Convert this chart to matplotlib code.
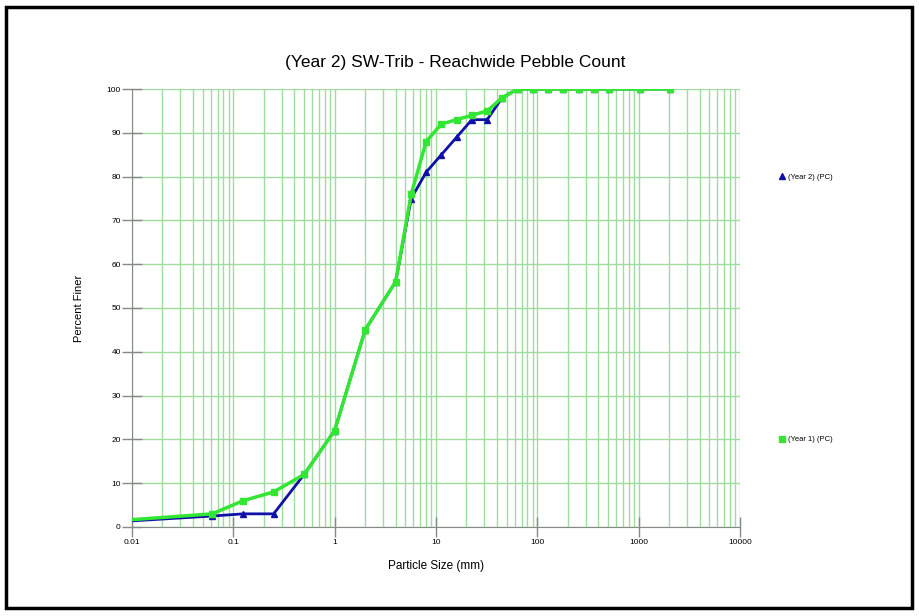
import matplotlib
matplotlib.use("Agg")
import matplotlib.pyplot as plt
from matplotlib.lines import Line2D
from matplotlib.patches import Rectangle
from matplotlib.ticker import LogLocator, FixedLocator, NullFormatter

plt.rcParams['font.family'] = ['Liberation Sans', 'DejaVu Sans']

# particle sizes (mm); first point is the 0 % anchor off the left edge
sizes = [0.001, 0.062, 0.125, 0.25, 0.5, 1, 2, 4, 5.7, 8, 11.3, 16, 22.6, 32, 45,
         64, 90, 128, 180, 256, 362, 512, 1024, 2048]
year1 = [0, 3, 6, 8, 12, 22, 45, 56, 76, 88, 92, 93, 94, 95, 98,
         100, 100, 100, 100, 100, 100, 100, 100, 100]
year2 = [0, 2.5, 3, 3, 12, 22, 45, 56, 75, 81, 85, 89, 93, 93, 98,
         100, 100, 100, 100, 100, 100, 100, 100, 100]

xticks = [0.01, 0.1, 1, 10, 100, 1000, 10000]
xlabels = ['0.01', '0.1', '1', '10', '100', '1000', '10000']
yticks = [0, 10, 20, 30, 40, 50, 60, 70, 80, 90, 100]

blue = '#1010a8'
green = '#33e633'
gridc = '#a0dca0'

fig = plt.figure(figsize=(9.19, 6.16), dpi=100)
ax = fig.add_axes([0.1436, 0.1445, 0.8052 - 0.1436, 0.8555 - 0.1445])

ax.plot(sizes, year2, color=blue, lw=2, marker='^', ms=4.2, zorder=3)
ax.plot(sizes, year1, color=green, lw=2.5, marker='s', ms=4.5, zorder=4)

ax.set_xscale('log')
ax.set_xlim(0.01, 10000)
ax.set_ylim(0, 100)
ax.xaxis.set_major_locator(FixedLocator(xticks))
ax.set_xticks(xticks, xlabels)
ax.xaxis.set_minor_locator(LogLocator(base=10, subs=range(2, 10), numticks=20))
ax.xaxis.set_minor_formatter(NullFormatter())
ax.set_yticks(yticks)

ax.grid(True, which='both', axis='x', color=gridc, lw=1)
ax.grid(True, which='major', axis='y', color=gridc, lw=1)
ax.tick_params(axis='x', which='minor', length=0)
ax.tick_params(which='major', direction='inout', length=14, color='#888888',
               labelsize=6, width=1)
ax.tick_params(axis='x', pad=2)
ax.tick_params(axis='y', pad=1)

for s in ['top', 'right']:
    ax.spines[s].set_visible(False)
for s in ['left', 'bottom']:
    ax.spines[s].set_color('#888888')

ax.set_xlabel('Particle Size (mm)', fontsize=8.5, labelpad=10)
ax.set_ylabel('Percent Finer', fontsize=8, labelpad=16)
fig.text(0.495, 0.899, '(Year 2) SW-Trib - Reachwide Pebble Count',
         ha='center', va='center', fontsize=12.5)

h2 = Line2D([], [], color=blue, marker='^', ls='none', ms=5)
h1 = Line2D([], [], color=green, marker='s', ls='none', ms=5)
leg2 = fig.legend([h2], ['(Year 2) (PC)'], loc='center left',
                  bbox_to_anchor=(0.843, 0.712), frameon=False, fontsize=5.5,
                  handlelength=0.8, handletextpad=0.4, borderpad=0)
leg1 = fig.legend([h1], ['(Year 1) (PC)'], loc='center left',
                  bbox_to_anchor=(0.843, 0.286), frameon=False, fontsize=5.5,
                  handlelength=0.8, handletextpad=0.4, borderpad=0)

fig.patches.append(Rectangle((0.007, 0.013), 0.985, 0.975, transform=fig.transFigure,
                             fill=False, edgecolor='black', lw=2.5))

fig.savefig('out.png', dpi=100)
